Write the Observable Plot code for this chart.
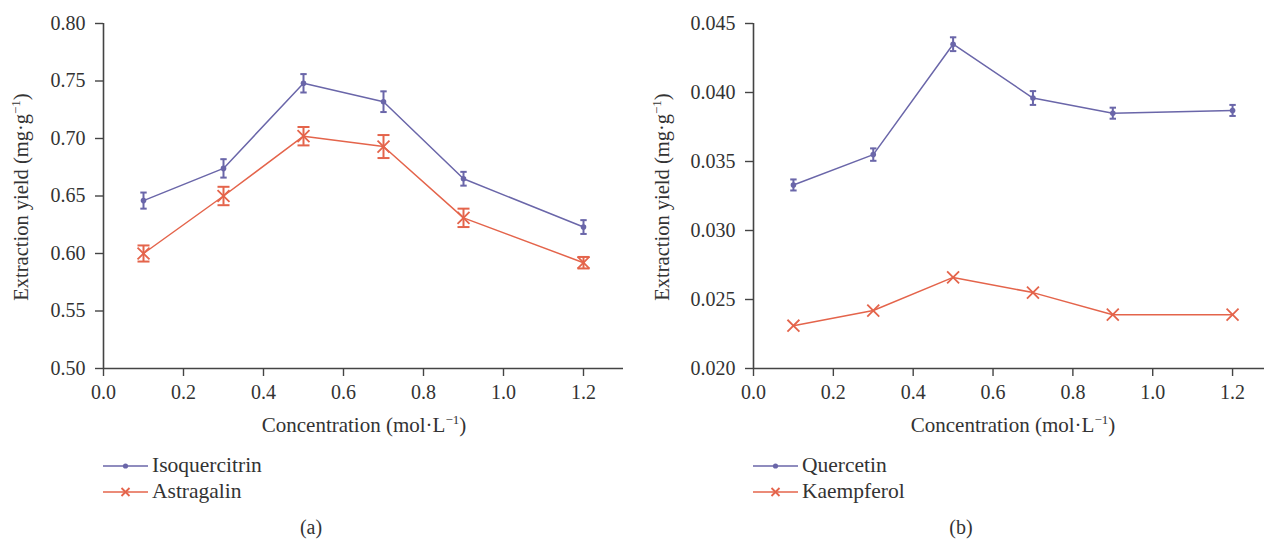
<!DOCTYPE html>
<html>
<head>
<meta charset="utf-8">
<script src="https://cdn.jsdelivr.net/npm/d3@7"></script>
<script src="https://cdn.jsdelivr.net/npm/@observablehq/plot@0.6"></script>
<style>
  html, body { margin: 0; padding: 0; background: #fff; }
  body { width: 1264px; height: 541px; overflow: hidden; font-family: "Liberation Serif", serif; color: #333; }
  #wrap { position: relative; width: 1264px; height: 541px; }
  .panel { position: absolute; top: 0; }
  .txt { position: absolute; white-space: nowrap; font-size: 21px; color: #333; line-height: 1; }
  .ylab { transform: translate(-50%, -50%) rotate(-90deg); font-size: 20.5px; }
  .xlab { transform: translate(-50%, -50%); }
  .cap { transform: translate(-50%, -50%); font-size: 20px; }
  sup { font-size: 13px; vertical-align: 8px; line-height: 0; }
  .leg { position: absolute; display: flex; align-items: center; font-size: 21.5px; color: #333; }
  .leg svg { margin-right: 4px; }
</style>
</head>
<body>
<div id="wrap"></div>
<script>
// ---------- data ----------
const concentration = [0.1, 0.3, 0.5, 0.7, 0.9, 1.2];
const isoquercitrin = [0.646, 0.674, 0.748, 0.732, 0.665, 0.623];
const isoquercitrinErr = [0.007, 0.008, 0.008, 0.009, 0.006, 0.006];
const astragalin = [0.600, 0.650, 0.702, 0.693, 0.631, 0.592];
const astragalinErr = [0.007, 0.008, 0.008, 0.010, 0.008, 0.005];
const quercetin = [0.0333, 0.0355, 0.0435, 0.0396, 0.0385, 0.0387];
const quercetinErr = [0.0004, 0.00045, 0.0005, 0.0005, 0.0004, 0.0004];
const kaempferol = [0.0231, 0.0242, 0.0266, 0.0255, 0.0239, 0.0239];
const xTicks = [0, 0.2, 0.4, 0.6, 0.8, 1.0, 1.2];
const yTicksA = [0.50, 0.55, 0.60, 0.65, 0.70, 0.75, 0.80];
const yTicksB = [0.020, 0.025, 0.030, 0.035, 0.040, 0.045];

const PURPLE = "#6a66a9";
const ORANGE = "#e4644b";

const capSymbol = {
  draw(ctx, size) {
    const w = Math.sqrt(size / Math.PI);
    ctx.moveTo(-w, 0);
    ctx.lineTo(w, 0);
  }
};

function rows(ys, errs) {
  return concentration.map((x, i) => ({x, y: ys[i], e: errs ? errs[i] : 0}));
}

function seriesMarks(data, color, kind, capR) {
  const marks = [Plot.line(data, {x: "x", y: "y", stroke: color, strokeWidth: 1.5})];
  if (capR) {
    marks.push(
      Plot.ruleX(data, {x: "x", y1: d => d.y - d.e, y2: d => d.y + d.e, stroke: color, strokeWidth: 2}),
      Plot.dot(data, {x: "x", y: d => d.y + d.e, symbol: capSymbol, r: capR, stroke: color, strokeWidth: 2}),
      Plot.dot(data, {x: "x", y: d => d.y - d.e, symbol: capSymbol, r: capR, stroke: color, strokeWidth: 2})
    );
  }
  if (kind === "dot") {
    marks.push(Plot.dot(data, {x: "x", y: "y", r: 2.8, fill: color}));
  } else {
    marks.push(Plot.dot(data, {x: "x", y: "y", symbol: "times", r: 5.5, stroke: color, strokeWidth: 1.8}));
  }
  return marks;
}

function panel({marginLeft, marginRight, xMax, yDomain, yTicks, yFmt, series}) {
  return Plot.plot({
    width: 632,
    height: 412,
    marginTop: 23,
    marginBottom: 44,
    marginLeft,
    marginRight,
    style: {fontFamily: "Liberation Serif, serif", fontSize: "20px", color: "#333", background: "transparent", overflow: "visible"},
    x: {domain: [0, xMax]},
    y: {domain: yDomain},
    marks: [
      Plot.axisY({ticks: yTicks, tickFormat: yFmt, tickSize: 8, tickPadding: 10, label: null, strokeWidth: 1.4, stroke: "#444"}),
      Plot.axisX({ticks: xTicks, tickFormat: d3.format(".1f"), tickSize: 8, tickPadding: 8, label: null, strokeWidth: 1.4, stroke: "#444"}),
      Plot.ruleX([0], {stroke: "#444", strokeWidth: 1.6}),
      Plot.ruleY([yDomain[0]], {stroke: "#444", strokeWidth: 1.6}),
      ...series
    ]
  });
}

const wrap = document.getElementById("wrap");

const left = panel({
  marginLeft: 103, marginRight: 9, xMax: 1.3,
  yDomain: [0.50, 0.80], yTicks: yTicksA, yFmt: d => d.toFixed(2),
  series: [
    ...seriesMarks(rows(isoquercitrin, isoquercitrinErr), PURPLE, "dot", 3.2),
    ...seriesMarks(rows(astragalin, astragalinErr), ORANGE, "x", 6)
  ]
});
left.classList.add("panel");
left.style.left = "0px";
wrap.appendChild(left);

const right = panel({
  marginLeft: 121, marginRight: 0, xMax: 1.28,
  yDomain: [0.020, 0.045], yTicks: yTicksB, yFmt: d => d.toFixed(3),
  series: [
    ...seriesMarks(rows(quercetin, quercetinErr), PURPLE, "dot", 3.2),
    ...seriesMarks(rows(kaempferol, null), ORANGE, "x", 0)
  ]
});
right.classList.add("panel");
right.style.left = "632px";
wrap.appendChild(right);

function addText(html, x, y, cls) {
  const d = document.createElement("div");
  d.className = "txt " + cls;
  d.style.left = x + "px";
  d.style.top = y + "px";
  d.innerHTML = html;
  wrap.appendChild(d);
}
const yLabel = "Extraction yield (mg·g<sup>−1</sup>)";
const xLabel = "Concentration (mol·L<sup>−1</sup>)";
addText(yLabel, 21, 197, "ylab");
addText(yLabel, 662, 197, "ylab");
addText(xLabel, 364, 425, "xlab");
addText(xLabel, 1013, 425, "xlab");
addText("(a)", 311, 527, "cap");
addText("(b)", 961, 527, "cap");

function legendItem(name, color, kind, x, y) {
  const d = document.createElement("div");
  d.className = "leg";
  d.style.left = x + "px";
  d.style.top = (y - 12) + "px";
  const marker = kind === "dot"
    ? `<circle cx="22.5" cy="12" r="2.6" fill="${color}"/>`
    : `<path d="M18.5 8 L26.5 16 M26.5 8 L18.5 16" stroke="${color}" stroke-width="1.8"/>`;
  d.innerHTML = `<svg width="45" height="24"><line x1="0" x2="45" y1="12" y2="12" stroke="${color}" stroke-width="1.5"/>${marker}</svg><span>${name}</span>`;
  wrap.appendChild(d);
}
legendItem("Isoquercitrin", PURPLE, "dot", 103, 465);
legendItem("Astragalin", ORANGE, "x", 103, 491);
legendItem("Quercetin", PURPLE, "dot", 753, 465);
legendItem("Kaempferol", ORANGE, "x", 753, 491);
</script>
</body>
</html>
